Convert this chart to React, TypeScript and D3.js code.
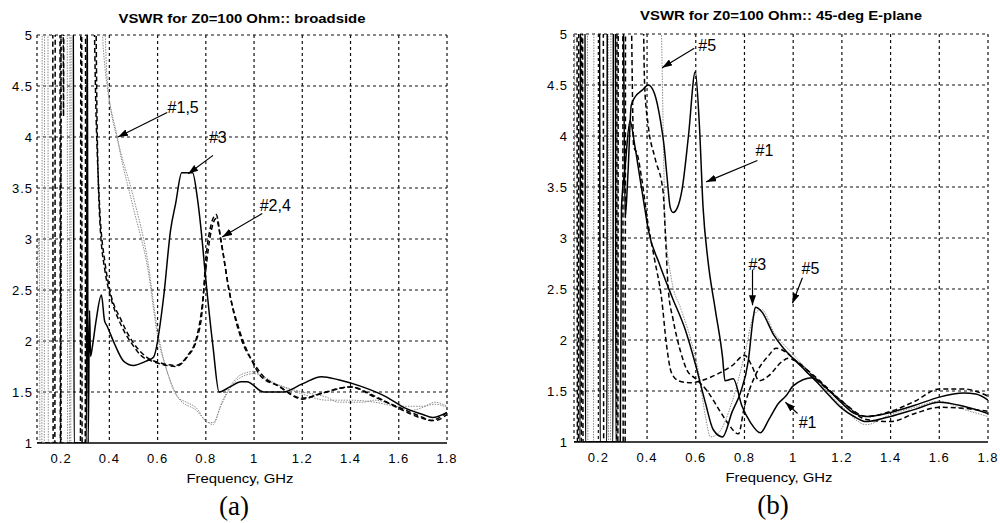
import * as d3 from "d3";
import React from "react";

// ---- axes ----
const xTicks = [0.2, 0.4, 0.6, 0.8, 1, 1.2, 1.4, 1.6, 1.8];
const yTicks = [1, 1.5, 2, 2.5, 3, 3.5, 4, 4.5, 5];

// ---- panel (a): broadside ----
const a3F = [0.1, 0.25, 0.254, 0.305, 0.308, 0.312, 0.318, 0.322, 0.33, 0.345, 0.367, 0.38, 0.39, 0.42, 0.46, 0.5, 0.55, 0.583, 0.625, 0.654, 0.675, 0.7, 0.745, 0.765, 0.78, 0.8, 0.83, 0.855, 0.9, 0.946, 0.97, 1.04, 1.12, 1.2, 1.28, 1.35, 1.45, 1.55, 1.62, 1.7, 1.74, 1.8];
const a3V = [6, 6, 1, 1, 6, 1.0, 2.3, 1.85, 1.95, 2.2, 2.45, 2.2, 2.15, 1.98, 1.8, 1.76, 1.8, 1.84, 2.43, 3.09, 3.35, 3.65, 3.65, 3.4, 3.1, 2.6, 1.94, 1.5, 1.55, 1.6, 1.6, 1.5, 1.5, 1.58, 1.65, 1.62, 1.55, 1.45, 1.35, 1.28, 1.25, 1.3];

const a2F = [0.1, 0.174, 0.176, 0.195, 0.197, 0.28, 0.282, 0.295, 0.297, 0.34, 0.35, 0.36, 0.383, 0.4, 0.45, 0.5, 0.53, 0.58, 0.62, 0.675, 0.725, 0.76, 0.785, 0.8, 0.81, 0.843, 0.862, 0.896, 0.94, 0.99, 1.03, 1.1, 1.2, 1.27, 1.4, 1.5, 1.6, 1.7, 1.73, 1.8];
const a2V = [1, 1, 6, 6, 1, 1, 6, 6, 6, 6, 4.0, 3.2, 2.67, 2.48, 2.15, 1.95, 1.86, 1.8, 1.77, 1.75, 1.85, 2.0, 2.3, 2.8, 3.0, 3.24, 3.0, 2.5, 2.1, 1.81, 1.65, 1.56, 1.43, 1.48, 1.55, 1.45, 1.35, 1.25, 1.22, 1.3];

const a4F = [0.1, 0.165, 0.167, 0.198, 0.2, 0.208, 0.21, 0.212, 0.285, 0.287, 0.3, 0.302, 0.33, 0.345, 0.36, 0.383, 0.4, 0.45, 0.5, 0.55, 0.62, 0.675, 0.725, 0.76, 0.785, 0.8, 0.82, 0.843, 0.865, 0.9, 0.95, 1.0, 1.04, 1.1, 1.2, 1.3, 1.4, 1.5, 1.6, 1.7, 1.75, 1.8];
const a4V = [6, 6, 1, 1, 6, 6, 4.2, 6, 6, 1, 1, 6, 6, 4.2, 3.3, 2.75, 2.52, 2.2, 1.98, 1.85, 1.78, 1.76, 1.86, 2.02, 2.35, 2.7, 3.05, 3.2, 2.95, 2.45, 2.0, 1.78, 1.65, 1.56, 1.44, 1.5, 1.55, 1.46, 1.34, 1.24, 1.22, 1.28];

const a1F = [0.1, 0.105, 0.11, 0.112, 0.13, 0.132, 0.225, 0.227, 0.24, 0.242, 0.36, 0.375, 0.433, 0.5, 0.558, 0.6, 0.646, 0.683, 0.72, 0.758, 0.81, 0.83, 0.87, 0.946, 1.0, 1.05, 1.125, 1.2, 1.3, 1.35, 1.45, 1.5, 1.6, 1.65, 1.75, 1.8];
const a1V = [2.5, 2.9, 3.0, 1, 1, 6, 6, 1, 1, 6, 6, 4.86, 4.0, 3.41, 2.8, 2.1, 1.65, 1.45, 1.4, 1.35, 1.2, 1.2, 1.42, 1.67, 1.7, 1.62, 1.55, 1.5, 1.45, 1.4, 1.4, 1.42, 1.35, 1.32, 1.38, 1.35];

const a5F = [0.1, 0.12, 0.122, 0.145, 0.147, 0.235, 0.237, 0.32, 0.322, 0.37, 0.39, 0.44, 0.5, 0.56, 0.6, 0.64, 0.69, 0.76, 0.8, 0.83, 0.86, 0.93, 1.0, 1.1, 1.2, 1.3, 1.4, 1.5, 1.6, 1.7, 1.75, 1.8];
const a5V = [1, 1, 6, 6, 1, 1, 6, 6, 6, 6, 4.6, 3.9, 3.3, 2.7, 2.05, 1.7, 1.43, 1.32, 1.22, 1.18, 1.35, 1.62, 1.68, 1.57, 1.48, 1.42, 1.42, 1.4, 1.36, 1.36, 1.4, 1.36];

// ---- panel (b): 45-deg E-plane ----
const b1F = [0.1, 0.205, 0.207, 0.26, 0.262, 0.3, 0.31, 0.322, 0.335, 0.35, 0.38, 0.405, 0.43, 0.455, 0.47, 0.482, 0.495, 0.507, 0.525, 0.544, 0.57, 0.598, 0.615, 0.63, 0.65, 0.68, 0.71, 0.72, 0.754, 0.79, 0.825, 0.865, 0.9, 0.94, 0.97, 1.0, 1.08, 1.14, 1.2, 1.25, 1.3, 1.4, 1.5, 1.6, 1.7, 1.75, 1.8];
const b1V = [6, 6, 1, 1, 6, 6, 3.2, 3.65, 4.3, 4.38, 4.45, 4.5, 4.42, 4.15, 3.9, 3.6, 3.3, 3.25, 3.3, 3.48, 4.0, 4.63, 4.1, 3.3, 2.78, 2.3, 1.83, 1.6, 1.62, 1.35, 1.19, 1.09, 1.22, 1.38, 1.45, 1.55, 1.63, 1.52, 1.38, 1.28, 1.25, 1.29, 1.36, 1.44, 1.48, 1.47, 1.41];

const b3F = [0.1, 0.125, 0.127, 0.145, 0.147, 0.235, 0.237, 0.27, 0.272, 0.29, 0.295, 0.31, 0.33, 0.35, 0.37, 0.39, 0.405, 0.45, 0.503, 0.557, 0.6, 0.64, 0.672, 0.71, 0.75, 0.783, 0.816, 0.835, 0.845, 0.87, 0.92, 0.96, 1.0, 1.05, 1.1, 1.15, 1.2, 1.25, 1.3, 1.35, 1.4, 1.5, 1.6, 1.7, 1.8];
const b3V = [1, 1, 6, 6, 1, 1, 6, 6, 1, 1, 3.3, 3.7, 4.15, 3.9, 3.6, 3.3, 3.08, 2.75, 2.42, 2.1, 1.75, 1.38, 1.12, 1.05, 1.3, 1.48, 1.8, 2.2, 2.32, 2.28, 2.05, 1.92, 1.82, 1.7, 1.58, 1.45, 1.33, 1.25, 1.2, 1.22, 1.25, 1.32, 1.39, 1.35, 1.28];

const b5F = [0.1, 0.105, 0.155, 0.157, 0.18, 0.182, 0.24, 0.242, 0.25, 0.252, 0.45, 0.462, 0.468, 0.475, 0.5, 0.54, 0.58, 0.61, 0.64, 0.66, 0.69, 0.75, 0.8, 0.84, 0.87, 0.92, 1.0, 1.1, 1.2, 1.3, 1.4, 1.5, 1.6, 1.7, 1.8];
const b5V = [2.0, 6, 6, 1, 1, 6, 6, 1, 1, 6, 6, 4.67, 3.8, 3.1, 2.6, 2.3, 2.0, 1.7, 1.25, 1.05, 1.08, 1.4, 1.85, 2.25, 2.3, 2.08, 1.86, 1.6, 1.35, 1.17, 1.27, 1.34, 1.4, 1.32, 1.25];

const b2F = [0.1, 0.112, 0.114, 0.13, 0.132, 0.22, 0.222, 0.28, 0.282, 0.33, 0.345, 0.36, 0.38, 0.4, 0.43, 0.46, 0.48, 0.5, 0.53, 0.58, 0.62, 0.7, 0.75, 0.8, 0.83, 0.86, 0.9, 0.95, 0.98, 1.02, 1.1, 1.2, 1.3, 1.4, 1.5, 1.6, 1.7, 1.8];
const b2V = [6, 6, 1, 1, 6, 6, 1, 1, 6, 6, 3.9, 3.82, 3.55, 3.2, 2.8, 2.4, 1.95, 1.68, 1.6, 1.58, 1.6, 1.68, 1.75, 1.85, 1.75, 1.6, 1.65, 1.78, 1.82, 1.78, 1.6, 1.4, 1.22, 1.2, 1.28, 1.34, 1.33, 1.3];

const b4F = [0.1, 0.118, 0.12, 0.135, 0.137, 0.275, 0.277, 0.3, 0.302, 0.31, 0.312, 0.38, 0.39, 0.405, 0.433, 0.466, 0.475, 0.487, 0.507, 0.536, 0.565, 0.6, 0.647, 0.7, 0.73, 0.775, 0.8, 0.85, 0.9, 0.93, 0.97, 1.0, 1.1, 1.2, 1.3, 1.4, 1.5, 1.6, 1.7, 1.8];
const b4V = [1, 1, 6, 6, 1, 1, 6, 6, 1, 1, 6, 6, 4.5, 4.1, 3.78, 3.45, 3.05, 2.5, 2.2, 1.9, 1.7, 1.62, 1.5, 1.3, 1.19, 1.08, 1.35, 1.68, 1.85, 1.92, 1.88, 1.82, 1.62, 1.4, 1.25, 1.3, 1.4, 1.52, 1.52, 1.45];

// annotation labels: [text, textF, textV, fromF, fromV, toF, toV]
const aNotes: [string, number, number, number, number, number, number][] = [
  ["#1,5", 0.706, 4.29, 0.64, 4.24, 0.436, 4.0],
  ["#3", 0.85, 4.0, 0.83, 3.82, 0.727, 3.64],
  ["#2,4", 1.088, 3.33, 1.034, 3.25, 0.868, 3.02],
];
const bNotes: [string, number, number, number, number, number, number][] = [
  ["#5", 0.647, 4.89, 0.594, 4.86, 0.462, 4.67],
  ["#1", 0.882, 3.86, 0.853, 3.76, 0.643, 3.55],
  ["#3", 0.853, 2.75, 0.833, 2.69, 0.833, 2.34],
  ["#5", 1.071, 2.71, 1.038, 2.61, 0.997, 2.36],
  ["#1", 1.059, 1.2, 1.018, 1.28, 0.968, 1.39],
];

type Kind = "solid" | "dashed" | "gray";
type Series = { f: number[]; v: number[]; kind: Kind };

const aSeries: Series[] = [
  { f: a1F, v: a1V, kind: "gray" },
  { f: a5F, v: a5V, kind: "gray" },
  { f: a2F, v: a2V, kind: "dashed" },
  { f: a4F, v: a4V, kind: "dashed" },
  { f: a3F, v: a3V, kind: "solid" },
];
const bSeries: Series[] = [
  { f: b5F, v: b5V, kind: "gray" },
  { f: b2F, v: b2V, kind: "dashed" },
  { f: b4F, v: b4V, kind: "dashed" },
  { f: b3F, v: b3V, kind: "solid" },
  { f: b1F, v: b1V, kind: "solid" },
];

const lineStyle = {
  solid: { stroke: "#000", width: 1.5, dash: undefined },
  dashed: { stroke: "#000", width: 1.5, dash: "5,3" },
  gray: { stroke: "#8c8c8c", width: 1, dash: "1.5,1.2" },
};

const Panel = ({ id, x0, x1, y0, y1, tickGap, title, titleY, titleW, label, series, notes }) => {
  const x = d3.scaleLinear().domain([0.1, 1.8]).range([x0, x1]);
  const y = d3.scaleLinear().domain([1, 5]).range([y1, y0]);
  const line = d3
    .line<[number, number]>()
    .x((d) => x(d[0]))
    .y((d) => y(Math.min(d[1], 5.8)))
    .curve(d3.curveMonotoneX);
  const cx = (x0 + x1) / 2;

  return (
    <g>
      <defs>
        <clipPath id={`clip-${id}`}>
          <rect x={x0} y={y0} width={x1 - x0} height={y1 - y0} />
        </clipPath>
      </defs>
      {/* grid */}
      {[0.1, ...xTicks].map((t) => (
        <line key={`gx${t}`} x1={x(t)} x2={x(t)} y1={y0} y2={y1} stroke="#111" strokeWidth={1.2} strokeDasharray="3,3" />
      ))}
      {yTicks.slice(1).map((t) => (
        <line key={`gy${t}`} x1={x0} x2={x1} y1={y(t)} y2={y(t)} stroke="#111" strokeWidth={1.2} strokeDasharray="3,3" />
      ))}
      <line x1={x0} x2={x1} y1={y1} y2={y1} stroke="#000" strokeWidth={1.5} />

      {/* curves */}
      <g clipPath={`url(#clip-${id})`}>
        {series.map((s, i) => {
          const st = lineStyle[s.kind];
          const pts = s.f.map((f, j) => [f, s.v[j]] as [number, number]);
          return (
            <path key={i} d={line(pts) || undefined} fill="none" stroke={st.stroke} strokeWidth={st.width} strokeDasharray={st.dash} />
          );
        })}
      </g>

      {/* tick labels */}
      {yTicks.map((t) => (
        <text key={`ty${t}`} x={x0 - tickGap} y={y(t) + 4.5} textAnchor="end" fontSize={13} letterSpacing={1} fontFamily="Arial, 'Liberation Sans', sans-serif">
          {String(t)}
        </text>
      ))}
      {xTicks.map((t) => (
        <text key={`tx${t}`} x={x(t)} y={y1 + 20} textAnchor="middle" fontSize={13} letterSpacing={1} fontFamily="Arial, 'Liberation Sans', sans-serif">
          {String(t)}
        </text>
      ))}

      {/* annotations */}
      {notes.map(([txt, tf, tv, af, av, bf, bv], i) => (
        <g key={`n${i}`}>
          <line x1={x(af)} y1={y(av)} x2={x(bf)} y2={y(bv)} stroke="#000" strokeWidth={1.2} markerEnd="url(#arrowhead)" />
          <text x={x(tf)} y={y(tv) + 6} textAnchor="middle" fontSize={16} fontFamily="Arial, 'Liberation Sans', sans-serif">
            {txt}
          </text>
        </g>
      ))}

      <text x={cx} y={titleY} textAnchor="middle" fontSize={13} fontWeight="bold" textLength={titleW} lengthAdjust="spacingAndGlyphs" fontFamily="Arial, 'Liberation Sans', sans-serif">
        {title}
      </text>
      <text x={cx - 2} y={y1 + 40} textAnchor="middle" fontSize={13} textLength={107} lengthAdjust="spacingAndGlyphs" fontFamily="Arial, 'Liberation Sans', sans-serif">
        Frequency, GHz
      </text>
      <text x={cx - 8} y={y1 + 72} textAnchor="middle" fontSize={27} fontFamily="'Liberation Serif', 'Times New Roman', serif">
        {label}
      </text>
    </g>
  );
};

const App = () => {
  return (
    <svg width={1000} height={523} style={{ position: "absolute", left: 0, top: 0, background: "#fff" }}>
      <defs>
        <marker id="arrowhead" markerUnits="userSpaceOnUse" markerWidth={10} markerHeight={7} refX={10} refY={3.5} orient="auto">
          <path d="M0,0 L10,3.5 L0,7 z" fill="#000" />
        </marker>
      </defs>
      <Panel
        id="a"
        x0={37}
        x1={447}
        y0={35}
        y1={443}
        tickGap={4}
        title="VSWR for Z0=100 Ohm:: broadside"
        titleY={23}
        titleW={247}
        label="(a)"
        series={aSeries}
        notes={aNotes}
      />
      <Panel
        id="b"
        x0={574}
        x1={988}
        y0={34}
        y1={442}
        tickGap={6}
        title="VSWR for Z0=100 Ohm:: 45-deg E-plane"
        titleY={20}
        titleW={282}
        label="(b)"
        series={bSeries}
        notes={bNotes}
      />
    </svg>
  );
};

export default App;
